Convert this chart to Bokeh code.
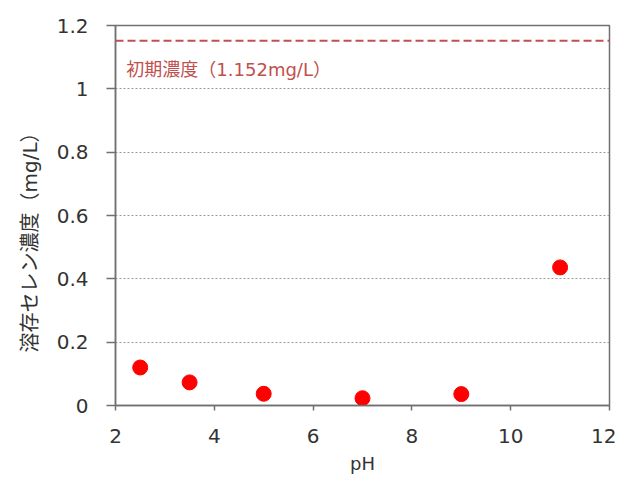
from bokeh.plotting import figure
from bokeh.models import Range1d, Span, Label, FixedTicker, Title
from bokeh.embed import file_html
from bokeh.resources import INLINE

# data
ph = [2.5, 3.5, 5, 7, 9, 11]
selenium = [0.12, 0.073, 0.037, 0.023, 0.036, 0.436]
initial_conc = 1.152
initial_label = "初期濃度（1.152mg/L）"
x_title = "pH"
y_title = "溶存セレン濃度（mg/L）"
x_ticks = [2, 4, 6, 8, 10, 12]
y_ticks = [0, 0.2, 0.4, 0.6, 0.8, 1.0, 1.2]
y_tick_labels = {0: "0", 0.2: "0.2", 0.4: "0.4", 0.6: "0.6", 0.8: "0.8", 1.0: "1", 1.2: "1.2"}

FONT = "'DejaVu Sans', 'Noto Sans CJK JP'"

p = figure(width=616, height=482, output_backend="svg", toolbar_location=None,
           x_range=Range1d(2, 12), y_range=Range1d(0, 1.2),
           min_border_left=115, min_border_right=7, min_border_top=25, min_border_bottom=77)
p.background_fill_color = "white"
p.border_fill_color = "white"
p.outline_line_color = "#707070"
p.outline_line_width = 1.5

p.xgrid.grid_line_color = None
p.ygrid.grid_line_color = "#999999"
p.ygrid.grid_line_dash = "2 2"
p.ygrid.grid_line_width = 1

p.xaxis.ticker = FixedTicker(ticks=x_ticks)
p.yaxis.ticker = FixedTicker(ticks=y_ticks)
p.yaxis.major_label_overrides = y_tick_labels

for ax in (p.xaxis[0], p.yaxis[0]):
    ax.axis_line_color = "#707070"
    ax.axis_line_width = 1.5
    ax.major_tick_line_color = "#707070"
    ax.major_tick_line_width = 1.5
    ax.minor_tick_line_color = None
    ax.major_tick_in = 0
    ax.major_label_text_font = FONT
    ax.major_label_text_font_size = "20px"
    ax.major_label_text_color = "#333333"
    ax.axis_label_text_font = FONT
    ax.axis_label_text_font_size = "18px"
    ax.axis_label_text_font_style = "normal"
    ax.axis_label_text_color = "#333333"

p.xaxis.major_tick_out = 5
p.xaxis.major_label_standoff = 18
p.yaxis.major_tick_out = 9
p.yaxis.major_label_standoff = 18
p.xaxis.axis_label = x_title
p.xaxis.axis_label_standoff = 7

# y title as a left-side title, positioned a little below the frame centre
p.add_layout(Title(text=y_title, align="left", offset=53, standoff=24,
                   text_color="#333333", text_font=FONT, text_font_size="20px",
                   text_font_style="normal"), "left")

p.add_layout(Span(location=initial_conc, dimension="width", line_color="#c0504d",
                  line_dash="8 4", line_width=2))
p.add_layout(Label(x=2.22, y=1.06, text=initial_label, text_color="#c0504d",
                   text_font=FONT, text_font_size="18px", text_baseline="middle"))

p.scatter(ph, selenium, size=15, color="#ff0000", line_color="#ff0000")

open("out.html", "w").write(file_html(p, INLINE))
